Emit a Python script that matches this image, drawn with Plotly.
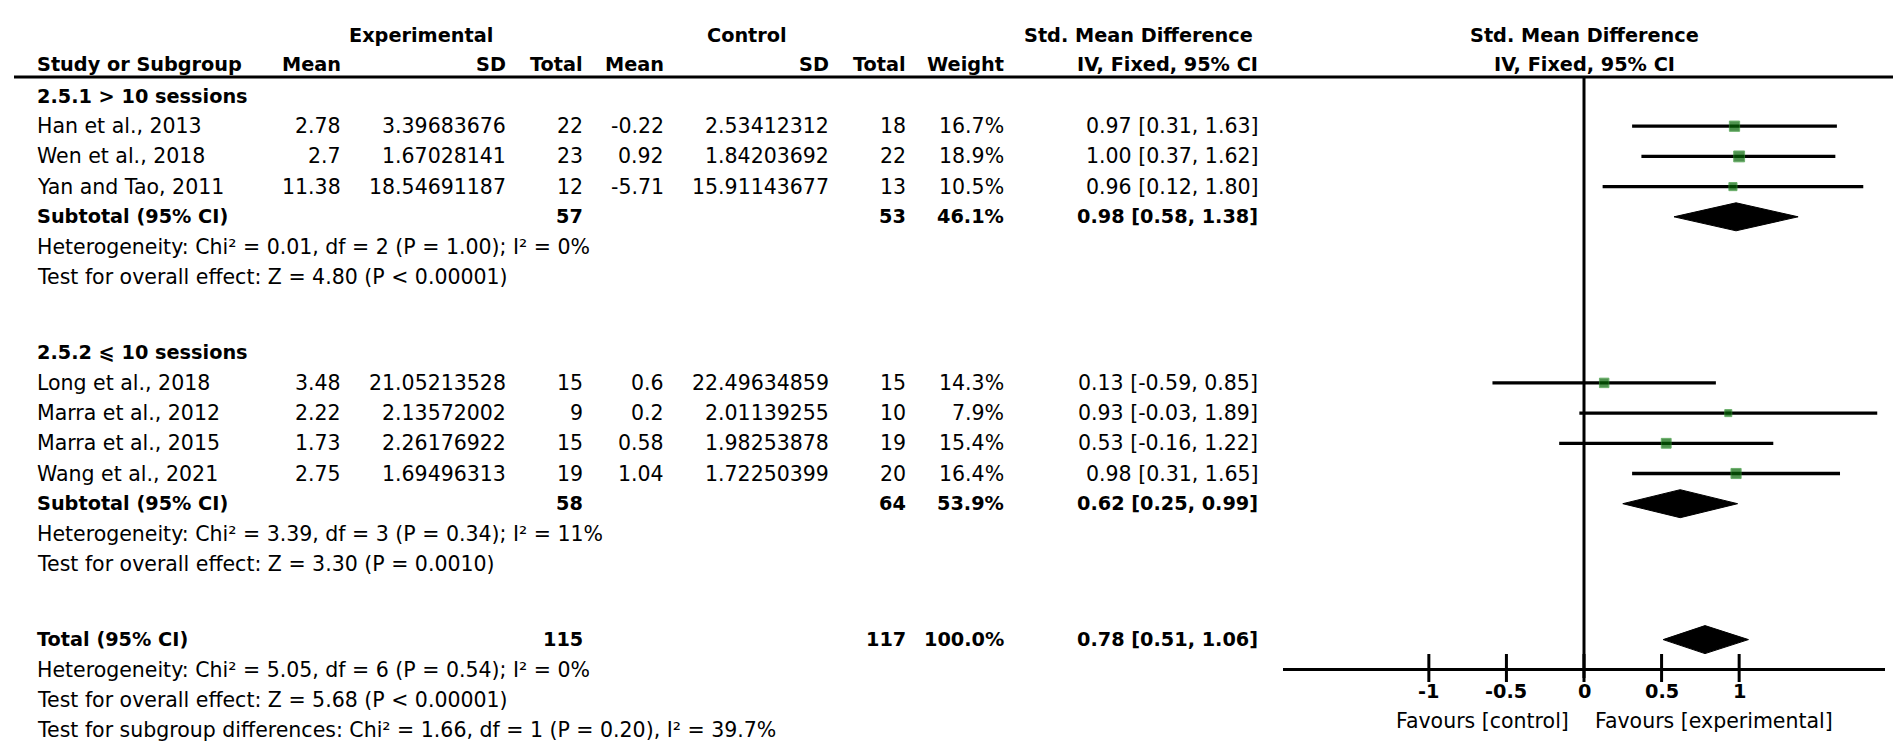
import plotly.graph_objects as go

# ---------------- data ----------------
studies = ["Han et al., 2013", "Wen et al., 2018", "Yan and Tao, 2011",
           "Long et al., 2018", "Marra et al., 2012", "Marra et al., 2015", "Wang et al., 2021"]
group_of = [0, 0, 0, 1, 1, 1, 1]
exp_mean = [2.78, 2.7, 11.38, 3.48, 2.22, 1.73, 2.75]
exp_sd = [3.39683676, 1.67028141, 18.54691187, 21.05213528, 2.13572002, 2.26176922, 1.69496313]
exp_total = [22, 23, 12, 15, 9, 15, 19]
ctl_mean = [-0.22, 0.92, -5.71, 0.6, 0.2, 0.58, 1.04]
ctl_sd = [2.53412312, 1.84203692, 15.91143677, 22.49634859, 2.01139255, 1.98253878, 1.72250399]
ctl_total = [18, 22, 13, 15, 10, 19, 20]
weight = [16.7, 18.9, 10.5, 14.3, 7.9, 15.4, 16.4]
smd = [0.97, 1.00, 0.96, 0.13, 0.93, 0.53, 0.98]
ci_lo = [0.31, 0.37, 0.12, -0.59, -0.03, -0.16, 0.31]
ci_hi = [1.63, 1.62, 1.80, 0.85, 1.89, 1.22, 1.65]

group_titles = ["2.5.1 > 10 sessions", "2.5.2 \u2a7d 10 sessions"]
sub_exp_total = [57, 58]
sub_ctl_total = [53, 64]
sub_weight = [46.1, 53.9]
sub_smd = [0.98, 0.62]
sub_lo = [0.58, 0.25]
sub_hi = [1.38, 0.99]
sub_het = ["Heterogeneity: Chi\u00b2 = 0.01, df = 2 (P = 1.00); I\u00b2 = 0%",
           "Heterogeneity: Chi\u00b2 = 3.39, df = 3 (P = 0.34); I\u00b2 = 11%"]
sub_test = ["Test for overall effect: Z = 4.80 (P < 0.00001)",
            "Test for overall effect: Z = 3.30 (P = 0.0010)"]

tot_exp_total = 115
tot_ctl_total = 117
tot_weight = 100.0
tot_smd = 0.78
tot_lo = 0.51
tot_hi = 1.06
tot_het = "Heterogeneity: Chi\u00b2 = 5.05, df = 6 (P = 0.54); I\u00b2 = 0%"
tot_test = "Test for overall effect: Z = 5.68 (P < 0.00001)"
subgroup_test = "Test for subgroup differences: Chi\u00b2 = 1.66, df = 1 (P = 0.20), I\u00b2 = 39.7%"

tick_vals = [-1, -0.5, 0, 0.5, 1]
tick_text = ["-1", "-0.5", "0", "0.5", "1"]
favours_left = "Favours [control]"
favours_right = "Favours [experimental]"

# ---------------- layout constants ----------------
W, H = 1901, 745
FONT = "DejaVu Sans, Liberation Sans, Arial, sans-serif"
FS = 20.5      # regular text
FSB = 19.3     # bold text
ROW0_PX = 88.0
ROW_PX = 30.2


def px2row(p):
    return (p - ROW0_PX) / ROW_PX


def px2paper(x):
    return x / W


COL_STUDY = 27
COL_EMEAN = 335
COL_ESD = 500
COL_ETOT = 577
COL_CMEAN = 658
COL_CSD = 823
COL_CTOT = 900
COL_WEIGHT = 998
COL_CI = 1252

# ---------------- row assignment ----------------
r = 0.0
study_rows = [None] * len(studies)
sub_rows, het_rows, test_rows, title_rows = [], [], [], []
for g in range(2):
    title_rows.append(r)
    r += 1
    for i, gg in enumerate(group_of):
        if gg == g:
            study_rows[i] = r
            r += 1
    sub_rows.append(r)
    r += 1
    het_rows.append(r)
    r += 1
    test_rows.append(r)
    r += 2.5
total_row = r
tot_het_row = r + 1
tot_test_row = r + 2
subgroup_row = r + 3

annotations = []


def txt(x_px, row, text, anchor="right", bold=False):
    annotations.append(dict(
        x=px2paper(x_px), xref="paper", y=row, yref="y",
        text=text, showarrow=False, xanchor=anchor, yanchor="middle",
        font=dict(family=FONT, size=FSB if bold else FS, color="black",
                  weight="bold" if bold else "normal")))


hdr1 = px2row(27)
hdr2 = px2row(56)
txt(413, hdr1, "Experimental", "center", True)
txt(739, hdr1, "Control", "center", True)
txt(1247, hdr1, "Std. Mean Difference", "right", True)
txt(COL_STUDY, hdr2, "Study or Subgroup", "left", True)
txt(COL_EMEAN, hdr2, "Mean", "right", True)
txt(COL_ESD, hdr2, "SD", "right", True)
txt(COL_ETOT, hdr2, "Total", "right", True)
txt(COL_CMEAN, hdr2, "Mean", "right", True)
txt(COL_CSD, hdr2, "SD", "right", True)
txt(COL_CTOT, hdr2, "Total", "right", True)
txt(COL_WEIGHT, hdr2, "Weight", "right", True)
txt(COL_CI, hdr2, "IV, Fixed, 95% CI", "right", True)

for i, s in enumerate(studies):
    rr = study_rows[i]
    txt(COL_STUDY, rr, s, "left")
    txt(COL_EMEAN, rr, str(exp_mean[i]))
    txt(COL_ESD, rr, str(exp_sd[i]))
    txt(COL_ETOT, rr, str(exp_total[i]))
    txt(COL_CMEAN, rr, str(ctl_mean[i]))
    txt(COL_CSD, rr, str(ctl_sd[i]))
    txt(COL_CTOT, rr, str(ctl_total[i]))
    txt(COL_WEIGHT, rr, f"{weight[i]:.1f}%")
    txt(COL_CI, rr, f"{smd[i]:.2f} [{ci_lo[i]:.2f}, {ci_hi[i]:.2f}]")

for g in range(2):
    txt(COL_STUDY, title_rows[g], group_titles[g], "left", True)
    txt(COL_STUDY, sub_rows[g], "Subtotal (95% CI)", "left", True)
    txt(COL_ETOT, sub_rows[g], str(sub_exp_total[g]), "right", True)
    txt(COL_CTOT, sub_rows[g], str(sub_ctl_total[g]), "right", True)
    txt(COL_WEIGHT, sub_rows[g], f"{sub_weight[g]:.1f}%", "right", True)
    txt(COL_CI, sub_rows[g], f"{sub_smd[g]:.2f} [{sub_lo[g]:.2f}, {sub_hi[g]:.2f}]", "right", True)
    txt(COL_STUDY, het_rows[g], sub_het[g], "left")
    txt(COL_STUDY, test_rows[g], sub_test[g], "left")

txt(COL_STUDY, total_row, "Total (95% CI)", "left", True)
txt(COL_ETOT, total_row, str(tot_exp_total), "right", True)
txt(COL_CTOT, total_row, str(tot_ctl_total), "right", True)
txt(COL_WEIGHT, total_row, f"{tot_weight:.1f}%", "right", True)
txt(COL_CI, total_row, f"{tot_smd:.2f} [{tot_lo:.2f}, {tot_hi:.2f}]", "right", True)
txt(COL_STUDY, tot_het_row, tot_het, "left")
txt(COL_STUDY, tot_test_row, tot_test, "left")
txt(COL_STUDY, subgroup_row, subgroup_test, "left")


def xtxt(x, row, text, anchor, bold):
    annotations.append(dict(
        x=x, xref="x", y=row, yref="y", text=text, showarrow=False,
        xanchor=anchor, yanchor="middle",
        font=dict(family=FONT, size=FSB if bold else FS, color="black",
                  weight="bold" if bold else "normal")))


# forest header (centered on the zero line)
xtxt(0, hdr1, "Std. Mean Difference", "center", True)
xtxt(0, hdr2, "IV, Fixed, 95% CI", "center", True)

AXIS_PX = 661
axis_row = px2row(AXIS_PX)
for v, t in zip(tick_vals, tick_text):
    xtxt(v, px2row(683), t, "center", True)
xtxt(-0.084, px2row(713), favours_left, "right", False)
xtxt(0.058, px2row(713), favours_right, "left", False)

# ---------------- traces ----------------
fig = go.Figure()

fig.add_trace(go.Scatter(
    x=smd, y=study_rows, mode="markers",
    marker=dict(symbol="square", size=[2.5 * w ** 0.5 for w in weight],
                color="#046404", line=dict(color="#2c8f2c", width=1)),
    error_x=dict(type="data", symmetric=False,
                 array=[h - m for h, m in zip(ci_hi, smd)],
                 arrayminus=[m - l for m, l in zip(smd, ci_lo)],
                 thickness=3.3, width=0, color="black"),
    showlegend=False, hoverinfo="skip"))

DH = 14.0 / ROW_PX
for est, lo, hi, row in [(sub_smd[0], sub_lo[0], sub_hi[0], sub_rows[0]),
                         (sub_smd[1], sub_lo[1], sub_hi[1], sub_rows[1]),
                         (tot_smd, tot_lo, tot_hi, total_row)]:
    fig.add_trace(go.Scatter(
        x=[lo, est, hi, est, lo], y=[row, row - DH, row, row + DH, row],
        mode="lines", fill="toself", fillcolor="black",
        line=dict(color="black", width=1), showlegend=False, hoverinfo="skip"))

# tick marks crossing the axis line
fig.add_trace(go.Scatter(
    x=tick_vals, y=[px2row(AXIS_PX - 1)] * len(tick_vals), mode="markers",
    marker=dict(symbol="line-ns", size=20, line=dict(color="black", width=3)),
    showlegend=False, hoverinfo="skip"))

shapes = [
    dict(type="line", xref="paper", yref="y", x0=px2paper(6), x1=px2paper(1895),
         y0=px2row(69), y1=px2row(69), line=dict(color="black", width=3)),
    dict(type="line", xref="x", yref="y", x0=0, x1=0,
         y0=px2row(69), y1=px2row(AXIS_PX + 9), line=dict(color="black", width=3)),
]

XL, XR = 1275, 1877
fig.update_layout(
    width=W, height=H, autosize=False,
    margin=dict(l=0, r=0, t=0, b=0),
    paper_bgcolor="white", plot_bgcolor="white",
    xaxis=dict(domain=[XL / W, XR / W], range=[-1.94, 1.94], anchor="free",
               position=1 - AXIS_PX / H, showline=True, linecolor="black", linewidth=3,
               showgrid=False, zeroline=False, showticklabels=False, ticks=""),
    yaxis=dict(domain=[0, 1], range=[px2row(H), px2row(0)], visible=False),
    shapes=shapes, annotations=annotations,
)

fig.write_html("out.html")
